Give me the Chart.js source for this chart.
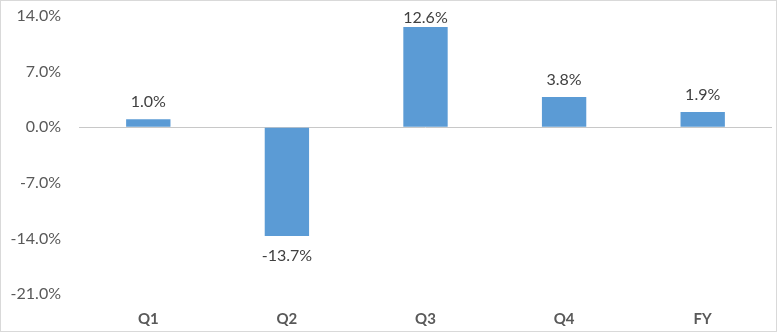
<!DOCTYPE html>
<html>
<head>
<meta charset="utf-8">
<script src="https://cdn.jsdelivr.net/npm/chart.js@4"></script>
<style>
  html, body { margin: 0; padding: 0; background: #fff; }
  #wrap { width: 777px; height: 332px; position: relative; }
</style>
</head>
<body>
<div id="wrap"><canvas id="myChart" width="777" height="332"></canvas></div>
<script>
// datos
const categorias = ['Q1', 'Q2', 'Q3', 'Q4', 'FY'];
const valores = [1.0, -13.7, 12.6, 3.8, 1.9];
const ticksY = [-21, -14, -7, 0, 7, 14];

const fuente = "'Lato', 'Liberation Sans', sans-serif";

// etiquetas sobre/bajo las barras + borde del grafico
const etiquetas = {
  id: 'etiquetas',
  afterDatasetsDraw(chart) {
    const ctx = chart.ctx;
    const meta = chart.getDatasetMeta(0);
    ctx.save();
    ctx.font = '16px ' + fuente;
    ctx.fillStyle = '#404040';
    ctx.textAlign = 'center';
    ctx.textBaseline = 'top';
    meta.data.forEach((bar, i) => {
      const v = valores[i];
      let y;
      if (v >= 0) {
        // como Excel, no dejar que la etiqueta salga del area
        y = Math.max(bar.y - 25, chart.chartArea.top - 6);
      } else {
        y = bar.y + 12;
      }
      ctx.fillText(v.toFixed(1) + '%', bar.x, y);
    });
    ctx.restore();
  },
  afterDraw(chart) {
    const ctx = chart.ctx;
    ctx.save();
    ctx.strokeStyle = '#d9d9d9';
    ctx.lineWidth = 1;
    ctx.strokeRect(0.5, 0.5, chart.width - 1, chart.height - 1);
    ctx.restore();
  }
};

new Chart(document.getElementById('myChart'), {
  type: 'bar',
  data: {
    labels: categorias,
    datasets: [{
      data: valores,
      backgroundColor: '#5b9bd5',
      barPercentage: 0.32,
      categoryPercentage: 1
    }]
  },
  options: {
    responsive: false,
    animation: false,
    layout: { padding: { top: 16, right: 5, bottom: 0, left: 0 } },
    plugins: { legend: { display: false }, tooltip: { enabled: false } },
    scales: {
      x: {
        grid: { display: false },
        border: { display: false },
        ticks: {
          color: '#595959',
          font: { family: fuente, size: 15, weight: 'bold' },
          padding: 8
        },
        afterFit(scale) { scale.height = 38; }
      },
      y: {
        min: -21,
        max: 14,
        afterBuildTicks(scale) { scale.ticks = ticksY.map(v => ({ value: v })); },
        grid: {
          drawTicks: false,
          color: ctx => ctx.tick && ctx.tick.value === 0 ? '#c8c8c8' : 'rgba(0,0,0,0)',
          lineWidth: 1
        },
        border: { display: false },
        ticks: {
          color: '#595959',
          font: { family: fuente, size: 16 },
          padding: 18,
          callback: v => v.toFixed(1) + '%'
        },
        afterFit(scale) {
          scale.width = 79;
          scale.paddingTop = 0;
          scale.paddingBottom = 0;
        }
      }
    }
  },
  plugins: [etiquetas]
});
</script>
</body>
</html>
